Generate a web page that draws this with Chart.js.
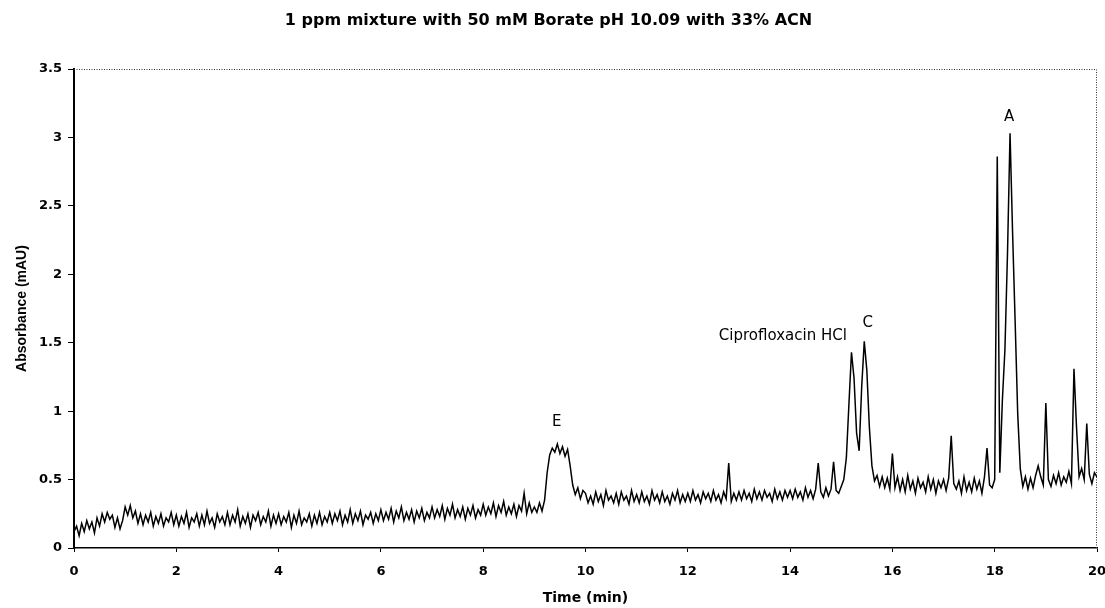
<!DOCTYPE html>
<html>
<head>
<meta charset="utf-8">
<script src="https://cdn.jsdelivr.net/npm/chart.js@4.4.0/dist/chart.umd.min.js"></script>
<style>
  html, body { margin: 0; padding: 0; background: #fff; }
  #wrap { width: 1105px; height: 608px; }
</style>
</head>
<body>
<div id="wrap"><canvas id="chromChart" width="1105" height="608"></canvas></div>
<script>
const chartTitle = '1 ppm mixture with 50 mM Borate pH 10.09 with 33% ACN';
const xTitle = 'Time (min)';
const yTitle = 'Absorbance (mAU)';

// detector trace, one reading every 0.05 min from 0 to 20 min
const timeStart = 0;
const timeStep = 0.05;
const absorbance = [
  0.12,0.16,0.09,0.18,0.12,0.20,0.14,0.19,0.11,0.22,0.16,0.25,0.19,0.26,0.21,0.24,0.15,0.22,0.14,0.20,
  0.30,0.24,0.31,0.22,0.27,0.18,0.25,0.17,0.24,0.19,0.26,0.16,0.23,0.18,0.25,0.16,0.22,0.19,0.26,0.17,
  0.24,0.16,0.23,0.18,0.26,0.15,0.22,0.19,0.25,0.16,0.24,0.17,0.27,0.18,0.22,0.15,0.25,0.19,0.23,0.17,
  0.26,0.17,0.24,0.19,0.28,0.16,0.23,0.18,0.25,0.15,0.24,0.20,0.26,0.17,0.23,0.19,0.27,0.16,0.24,0.18,
  0.25,0.17,0.23,0.19,0.26,0.15,0.24,0.18,0.27,0.17,0.22,0.19,0.25,0.16,0.24,0.18,0.26,0.17,0.23,0.19,
  0.26,0.18,0.25,0.20,0.27,0.17,0.24,0.19,0.28,0.18,0.25,0.20,0.27,0.17,0.24,0.21,0.26,0.18,0.25,0.20,
  0.28,0.20,0.26,0.21,0.29,0.19,0.27,0.22,0.30,0.20,0.26,0.21,0.28,0.19,0.27,0.22,0.29,0.20,0.26,0.22,
  0.30,0.22,0.28,0.23,0.31,0.21,0.29,0.24,0.32,0.22,0.28,0.23,0.30,0.21,0.29,0.24,0.31,0.22,0.28,0.24,
  0.32,0.24,0.30,0.25,0.33,0.23,0.31,0.26,0.34,0.24,0.30,0.25,0.32,0.23,0.31,0.27,0.40,0.25,0.33,0.26,
  0.30,0.26,0.33,0.27,0.35,0.55,0.68,0.73,0.70,0.76,0.69,0.74,0.67,0.72,0.60,0.46,0.39,0.44,0.36,0.42,
  0.40,0.33,0.38,0.32,0.41,0.34,0.39,0.31,0.42,0.35,0.38,0.33,0.40,0.32,0.41,0.35,0.38,0.32,0.42,0.34,
  0.39,0.33,0.41,0.34,0.38,0.32,0.42,0.35,0.39,0.33,0.41,0.34,0.38,0.32,0.40,0.35,0.42,0.33,0.39,0.34,
  0.40,0.34,0.42,0.35,0.39,0.33,0.41,0.36,0.40,0.34,0.42,0.35,0.39,0.33,0.41,0.36,0.62,0.34,0.40,0.35,
  0.41,0.35,0.42,0.36,0.40,0.34,0.43,0.36,0.41,0.35,0.42,0.37,0.40,0.34,0.43,0.36,0.41,0.35,0.42,0.37,
  0.42,0.36,0.43,0.37,0.41,0.35,0.44,0.37,0.42,0.36,0.43,0.62,0.41,0.37,0.44,0.38,0.43,0.63,0.42,0.40,
  0.45,0.50,0.66,1.05,1.43,1.24,0.84,0.71,1.18,1.51,1.30,0.88,0.60,0.49,0.53,0.45,0.52,0.44,0.51,0.43,
  0.69,0.44,0.52,0.42,0.50,0.41,0.53,0.43,0.49,0.40,0.51,0.44,0.48,0.41,0.52,0.43,0.50,0.40,0.49,0.44,
  0.50,0.42,0.51,0.82,0.47,0.43,0.49,0.40,0.52,0.42,0.48,0.41,0.51,0.43,0.49,0.40,0.52,0.73,0.46,0.44,
  0.50,2.86,0.55,1.08,1.45,2.15,3.03,2.30,1.65,0.98,0.58,0.45,0.52,0.43,0.51,0.44,0.53,0.60,0.52,0.46,
  1.06,0.50,0.45,0.53,0.47,0.55,0.46,0.52,0.48,0.56,0.47,1.31,0.88,0.52,0.58,0.50,0.91,0.54,0.47,0.55,
  0.52
];
const times = absorbance.map((_, i) => +(timeStart + i * timeStep).toFixed(2));

const peakNames = ['E', 'Ciprofloxacin HCl', 'C', 'A'];
const peakLabelTimes = [9.44, 15.11, 15.52, 18.28];
const peakLabelHeights = [0.92, 1.55, 1.64, 3.15];

const xTicks = { min: 0, max: 20, step: 2 };
const yTicks = { min: 0, max: 3.5, step: 0.5 };

// dotted top/right frame + peak names
const framePlugin = {
  id: 'frame',
  afterDatasetsDraw(chart) {
    const { ctx, chartArea: a, scales } = chart;
    ctx.save();
    ctx.strokeStyle = '#333';
    ctx.lineWidth = 1;
    ctx.setLineDash([1, 1.5]);
    ctx.beginPath();
    ctx.moveTo(a.left, a.top + 0.5);
    ctx.lineTo(a.right - 0.5, a.top + 0.5);
    ctx.lineTo(a.right - 0.5, a.bottom);
    ctx.stroke();
    ctx.setLineDash([]);

    ctx.fillStyle = '#000';
    ctx.font = '15px "DejaVu Sans"';
    ctx.textBaseline = 'middle';
    peakNames.forEach((name, i) => {
      ctx.textAlign = name.length > 1 ? 'right' : 'center';
      ctx.fillText(name, scales.x.getPixelForValue(peakLabelTimes[i]), scales.y.getPixelForValue(peakLabelHeights[i]));
    });
    ctx.restore();
  }
};

const tickFont = { family: '"DejaVu Sans"', size: 13, weight: 'bold' };

const ctx = document.getElementById('chromChart').getContext('2d');
window.chromChart = new Chart(ctx, {
  type: 'line',
  data: {
    datasets: [{
      label: 'Absorbance',
      data: times.map((t, i) => ({ x: t, y: absorbance[i] })),
      borderColor: '#000',
      borderWidth: 1.5,
      pointRadius: 0,
      tension: 0,
      fill: false
    }]
  },
  options: {
    responsive: false,
    animation: false,
    layout: { padding: { left: 0, right: 8, top: 0, bottom: 0 } },
    plugins: {
      legend: { display: false },
      tooltip: { enabled: false },
      title: {
        display: true,
        text: chartTitle,
        color: '#000',
        font: { family: '"DejaVu Sans"', size: 16, weight: 'bold' },
        padding: { top: 11.4, bottom: 38.4 }
      }
    },
    scales: {
      x: {
        type: 'linear',
        min: xTicks.min,
        max: xTicks.max,
        ticks: { stepSize: xTicks.step, color: '#000', font: tickFont, padding: 12, maxRotation: 0 },
        grid: { drawOnChartArea: false, drawTicks: true, tickLength: 4, color: '#000' },
        border: { display: true, color: '#000', width: 1.5 },
        title: {
          display: true, text: xTitle, color: '#000',
          font: { family: '"DejaVu Sans"', size: 14, weight: 'bold' },
          padding: { top: 0, bottom: 1 }
        },
        afterFit(s) { s.height = 60; s.paddingLeft = 0; s.paddingRight = 0; }
      },
      y: {
        type: 'linear',
        min: yTicks.min,
        max: yTicks.max,
        ticks: { stepSize: yTicks.step, color: '#000', font: tickFont, padding: 6, callback: v => String(v) },
        grid: { drawOnChartArea: false, drawTicks: true, tickLength: 6, color: '#000' },
        border: { display: true, color: '#000', width: 2 },
        title: {
          display: true, text: yTitle, color: '#000',
          font: { family: '"Liberation Sans Narrow", "Liberation Sans"', size: 14, weight: 'bold' },
          padding: { top: 13.6, bottom: 0 }
        },
        afterFit(s) { s.width = 74; }
      }
    }
  },
  plugins: [framePlugin]
});
</script>
</body>
</html>
